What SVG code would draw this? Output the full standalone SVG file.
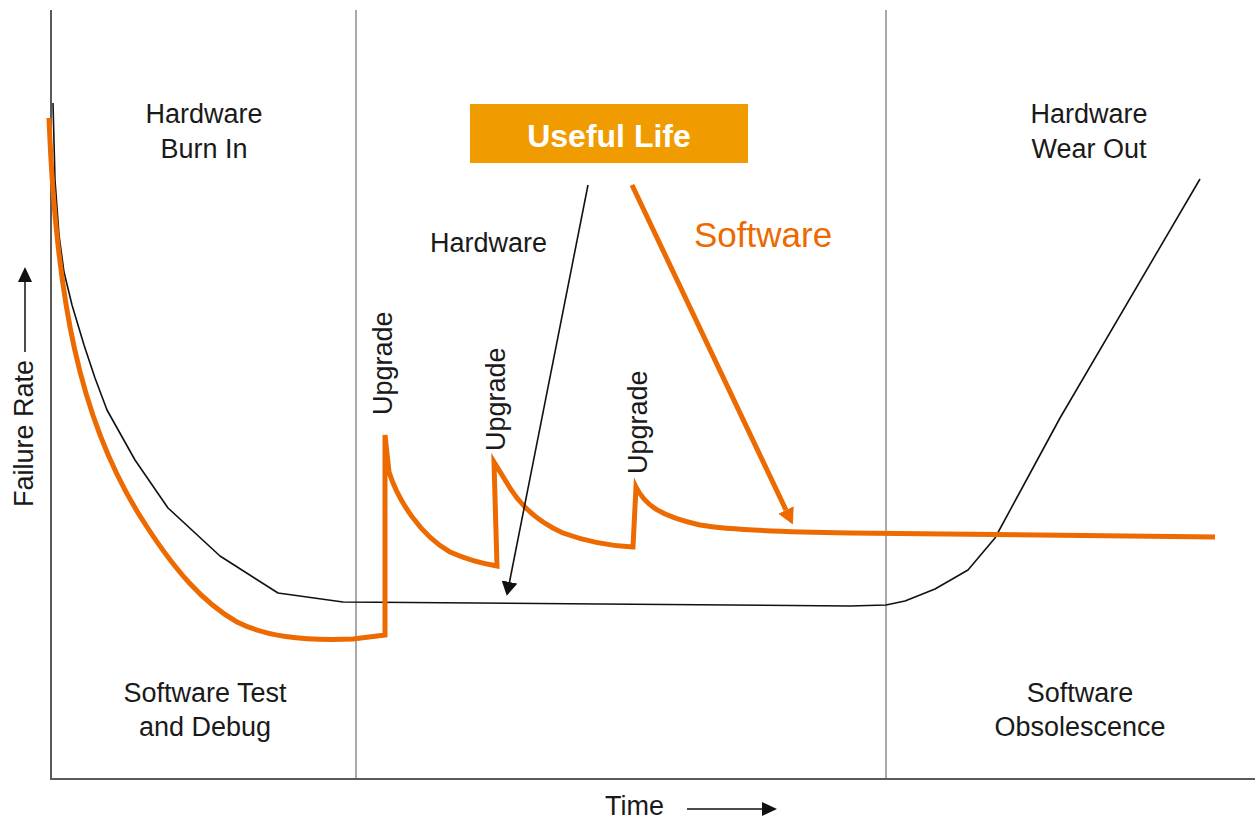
<svg xmlns="http://www.w3.org/2000/svg" width="1255" height="822" viewBox="0 0 1255 822">
  <style>
    .lbl { font-family: "Liberation Sans", Arial, sans-serif; font-size: 27px; fill: #1a1a1a; }
    .ctr { text-anchor: middle; }
    .axis { stroke: #5a5a5a; stroke-width: 2; fill: none; }
    .divider { stroke: #a9a9a9; stroke-width: 2; fill: none; }
    .hw { stroke: #111; stroke-width: 1.6; fill: none; stroke-linejoin: round; }
    .sw { stroke: #ec6a00; stroke-width: 5; fill: none; stroke-linejoin: miter; }
  </style>
  <defs>
    <marker id="headBlack" markerUnits="userSpaceOnUse" viewBox="0 0 14 16" markerWidth="14" markerHeight="16" refX="0" refY="8" orient="auto">
      <path d="M0,0 L14,8 L0,16 Z" fill="#111"/>
    </marker>
    <marker id="headOrange" markerUnits="userSpaceOnUse" viewBox="0 0 16 17" markerWidth="16" markerHeight="17" refX="0" refY="8.5" orient="auto">
      <path d="M0,0 L16,8.5 L0,17 Z" fill="#ec6a00"/>
    </marker>
    <marker id="headSmall" markerUnits="userSpaceOnUse" viewBox="0 0 15 14" markerWidth="15" markerHeight="14" refX="0" refY="7" orient="auto">
      <path d="M0,0 L15,7 L0,14 Z" fill="#111"/>
    </marker>
  </defs>

  <!-- frame: axes and phase dividers -->
  <g id="frame">
    <line class="divider" x1="356" y1="10" x2="356" y2="779"/>
    <line class="divider" x1="886" y1="10" x2="886" y2="779"/>
    <line class="axis" x1="51" y1="10" x2="51" y2="779"/>
    <line class="axis" x1="50" y1="779" x2="1255" y2="779"/>
  </g>

  <!-- axis titles -->
  <g id="axis-y">
    <text class="lbl" font-size="26" transform="translate(33,507) rotate(-90)">Failure Rate</text>
    <line x1="25" y1="352" x2="25" y2="282" stroke="#111" stroke-width="1.5" marker-end="url(#headSmall)"/>
  </g>
  <g id="axis-x">
    <text class="lbl" x="605" y="815">Time</text>
    <line x1="687" y1="809" x2="762" y2="809" stroke="#111" stroke-width="1.5" marker-end="url(#headSmall)"/>
  </g>

  <!-- phase labels -->
  <g id="burn-in">
    <text class="lbl ctr" x="204" y="123">Hardware</text>
    <text class="lbl ctr" x="204" y="158">Burn In</text>
  </g>
  <g id="wear-out">
    <text class="lbl ctr" x="1089" y="123">Hardware</text>
    <text class="lbl ctr" x="1089" y="158">Wear Out</text>
  </g>
  <g id="test-debug">
    <text class="lbl ctr" x="205" y="702">Software Test</text>
    <text class="lbl ctr" x="205" y="736">and Debug</text>
  </g>
  <g id="obsolescence">
    <text class="lbl ctr" x="1080" y="702">Software</text>
    <text class="lbl ctr" x="1080" y="736">Obsolescence</text>
  </g>

  <g id="useful-life">
    <rect x="470" y="104" width="278" height="59" fill="#f09c00"/>
    <text x="609" y="147" text-anchor="middle" font-family="'Liberation Sans', Arial, sans-serif" font-weight="bold" font-size="32" fill="#ffffff">Useful Life</text>
  </g>

  <g id="hardware-label">
    <text class="lbl" x="430" y="252">Hardware</text>
  </g>
  <g id="software-label">
    <text x="694" y="247" font-family="'Liberation Sans', Arial, sans-serif" font-size="35" fill="#ec6a00">Software</text>
  </g>

  <g id="upgrades">
    <text class="lbl" transform="translate(392,415) rotate(-90)">Upgrade</text>
    <text class="lbl" transform="translate(505,451) rotate(-90)">Upgrade</text>
    <text class="lbl" transform="translate(647,474) rotate(-90)">Upgrade</text>
  </g>

  <!-- failure-rate curves -->
  <g id="curves">
    <polyline id="hardware-curve" class="hw" points="53,103 55,180 59,235 64,272 72,305 84,345 95,378 107,410 135,460 168,508 220,556 278,593 343,602 600,604 850,606 886,605 905,601 935,589 968,570 995,538 1060,418 1200,179"/>
    <path id="software-curve" class="sw" d="M49,118 C56,300 80,420 140,516 C175,572 205,604 237,622 C265,636 300,641 353,639 L385,635 L385,435 L389,472 C398,500 420,535 450,552 C470,561 485,564 497,566 L494,462 L510,488 C525,512 545,525 563,533 C585,541 610,546 633,547 L636,487 C645,505 660,516 700,525 C730,530 780,532 850,533 L1215,537"/>
  </g>

  <!-- pointers from the Useful Life box -->
  <g id="connectors">
    <line x1="588" y1="185" x2="509.5" y2="582" stroke="#111" stroke-width="1.6" marker-end="url(#headBlack)"/>
    <line x1="632" y1="185" x2="786" y2="510" stroke="#ec6a00" stroke-width="5" marker-end="url(#headOrange)"/>
  </g>
</svg>
